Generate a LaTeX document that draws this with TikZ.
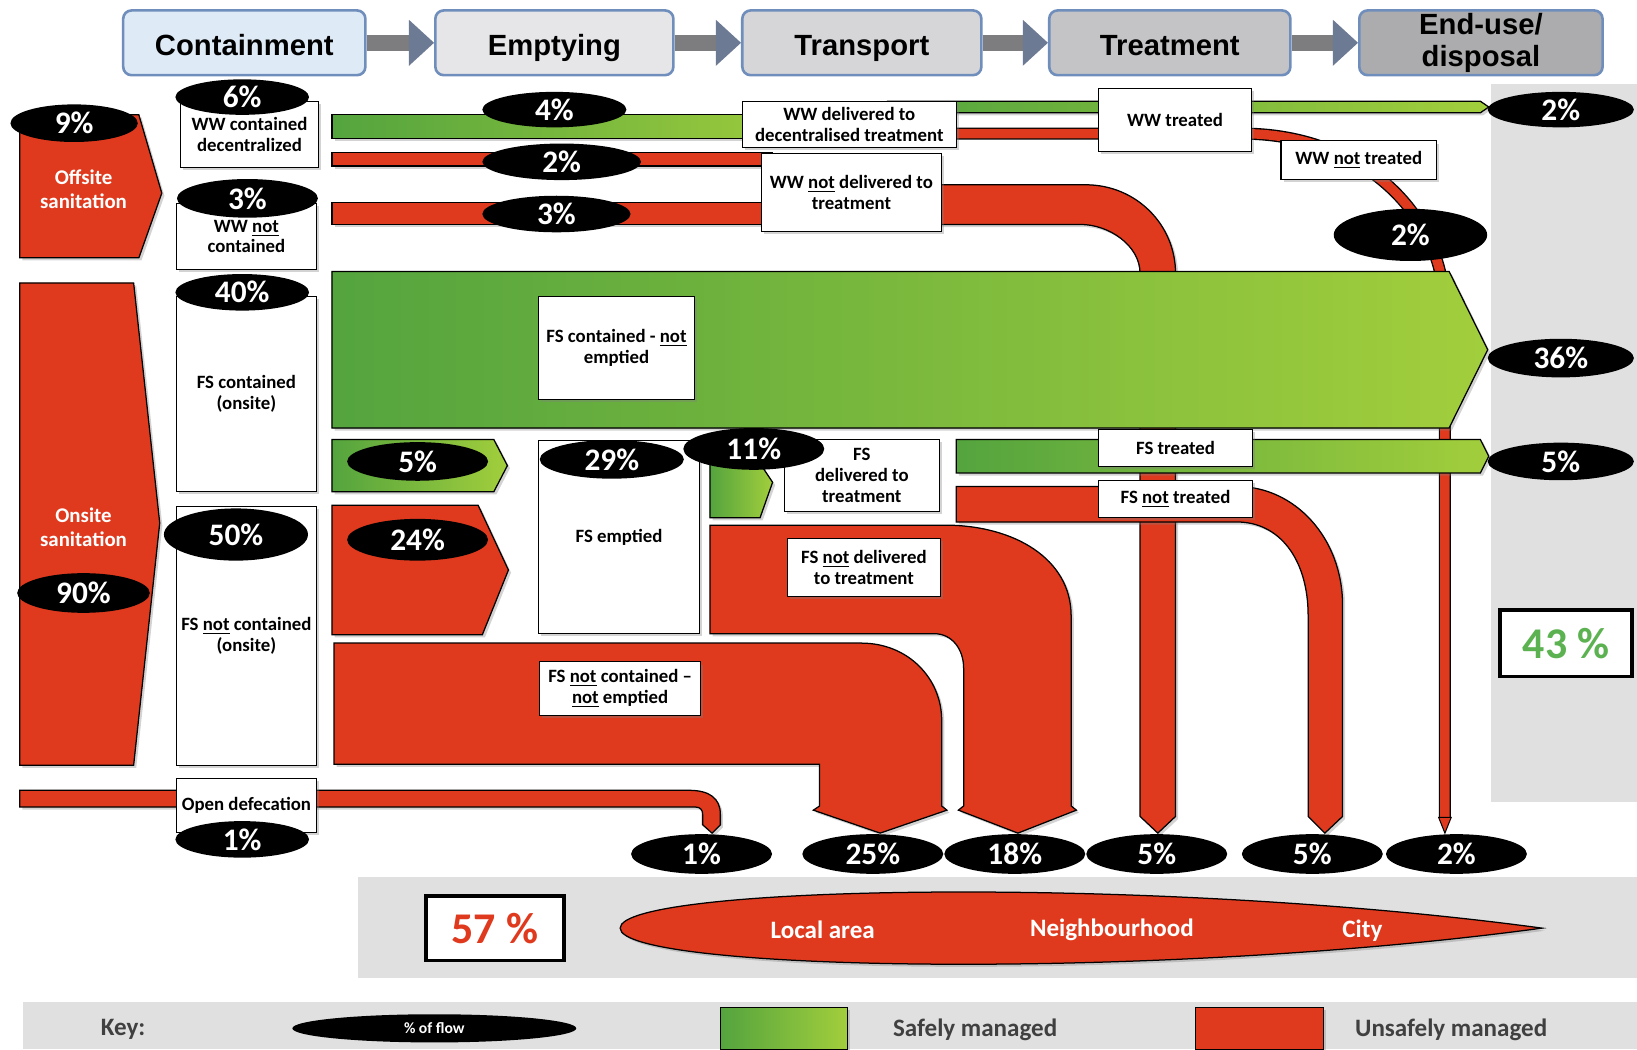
\documentclass[tikz,border=0pt]{standalone}
\usepackage{fontspec}
\setmainfont{Carlito}
\newfontfamily\hdrfont{Liberation Sans}
\usetikzlibrary{shapes.geometric,shadows,arrows.meta}

\newlength{\du}
\setlength{\du}{0.5pt}

\definecolor{flowred}{RGB}{224,58,30}
\definecolor{greenL}{RGB}{84,164,62}
\definecolor{greenR}{RGB}{162,206,60}
\definecolor{hdrline}{RGB}{112,142,188}
\definecolor{hdrA}{RGB}{222,235,247}
\definecolor{hdrB}{RGB}{230,230,232}
\definecolor{hdrC}{RGB}{214,214,216}
\definecolor{hdrD}{RGB}{196,196,198}
\definecolor{hdrE}{RGB}{172,172,174}
\definecolor{arrowgray}{RGB}{125,125,128}
\definecolor{tipgray}{RGB}{108,122,148}
\definecolor{bandgray}{RGB}{224,224,224}
\definecolor{pctgreen}{RGB}{92,178,80}
\definecolor{keygray}{RGB}{64,64,64}

\tikzset{
  shdw/.style={drop shadow={opacity=0.35,shadow xshift=2.5\du,shadow yshift=-2.5\du}},
  hdrbox/.style={draw=hdrline, line width=2.5\du, rounded corners=8\du, minimum height=62\du,
    inner sep=0pt, align=center, font=\hdrfont\bfseries\fontsize{14}{15.5}\selectfont},
  hdrone/.style={hdrbox, text height=12.5pt, text depth=0pt},
  hdrarrow/.style={draw=arrowgray, line width=15\du,
    -{Triangle[length=12pt,width=22pt,color=tipgray,line width=0pt]}},
  lblbox/.style={shdw, draw=black, line width=1\du, fill=white, inner sep=0pt, align=center,
    font=\bfseries\fontsize{9}{10}\selectfont},
  pct/.style={ellipse, fill=black, text=white, inner sep=0pt, minimum width=135\du,
    minimum height=37\du, font=\bfseries\fontsize{15}{15}\selectfont},
  redflow/.style={shdw, fill=flowred, draw=black, line width=1.2\du},
  greenflow/.style={shdw, left color=greenL, right color=greenR, draw=black, line width=1.2\du},
  redline/.style={draw=black, line width=1.3\du, double=flowred, double distance=9\du},
  whitetxt/.style={text=white, align=center, font=\bfseries\fontsize{10}{11.5}\selectfont},
  bigpct/.style={draw=black, line width=3.5\du, fill=white, inner sep=0pt,
    font=\bfseries\fontsize{21}{21}\selectfont},
  keytxt/.style={text=keygray, font=\bfseries\fontsize{12}{12}\selectfont},
}

\begin{document}
\begin{tikzpicture}
\pgftransformxscale{1.000000}
\pgftransformyscale{-1.000000}
\useasboundingbox (0\du,0\du) rectangle (1568\du,1005\du);
% grey panels
\fill[bandgray] (1428\du,80\du) rectangle (1568\du,768\du);
\fill[bandgray] (343\du,840\du) rectangle (1568\du,937\du);
\fill[bandgray] (22\du,960\du) rectangle (1568\du,1005\du);

% service chain
\node[hdrone, fill=hdrA, minimum width=232\du] (containment) at (234\du,41\du) {Containment};
\node[hdrone, fill=hdrB, minimum width=228\du] (emptying) at (531\du,41\du) {Emptying};
\node[hdrone, fill=hdrC, minimum width=229\du] (transport) at (825.5\du,41\du) {Transport};
\node[hdrone, fill=hdrD, minimum width=231\du] (treatment) at (1120.5\du,41\du) {Treatment};
\node[hdrbox, fill=hdrE, minimum width=233\du] (enduse) at (1418.5\du,41\du) {End-use/\\disposal};
\draw[hdrarrow] (containment) -- (emptying);
\draw[hdrarrow] (emptying) -- (transport);
\draw[hdrarrow] (transport) -- (treatment);
\draw[hdrarrow] (treatment) -- (enduse);

% offsite flows
\draw[redline] (905\du,128\du)--(1190\du,128\du) .. controls (1300\du,128\du) and (1384\du,200\du) .. (1384\du,300\du)--(1384\du,783\du);
\fill[flowred, draw=black, line width=1\du] (1378\du,783\du)--(1384\du,798\du)--(1390\du,783\du)--cycle;
\filldraw[redflow] (895\du,177\du)--(1040\du,177\du) .. controls (1088\du,177\du) and (1126\du,215\du) .. (1126\du,262\du)--(1126\du,782\du)--(1109\du,798\du)--(1092\du,782\du)--(1092\du,262\du) .. controls (1092\du,235\du) and (1062\du,215\du) .. (1035\du,215\du)--(895\du,215\du)--cycle;
\filldraw[greenflow] (318\du,110\du)--(800\du,110\du)--(800\du,133\du)--(318\du,133\du)--cycle;
\filldraw[greenflow] (850\du,97\du)--(1418\du,97\du)--(1426\du,102.5\du)--(1418\du,108\du)--(850\du,108\du)--cycle;
\filldraw[redflow] (318\du,146\du)--(740\du,146\du)--(740\du,159\du)--(318\du,159\du)--cycle;
\filldraw[redflow] (318\du,194\du)--(740\du,194\du)--(740\du,215\du)--(318\du,215\du)--cycle;

% onsite flows
\filldraw[greenflow] (318\du,260\du)--(1388\du,260\du)--(1425\du,335\du)--(1388\du,410\du)--(318\du,410\du)--cycle;
\filldraw[redflow] (19\du,110\du)--(133\du,110\du)--(155\du,185\du)--(133\du,247\du)--(19\du,247\du)--cycle;
\filldraw[redflow] (19\du,271\du)--(128\du,271\du)--(153\du,501\du)--(128\du,733\du)--(19\du,733\du)--cycle;
\filldraw[greenflow] (318\du,421\du)--(473\du,421\du)--(486\du,446\du)--(473\du,471\du)--(318\du,471\du)--cycle;
\filldraw[redflow] (318\du,484\du)--(458\du,484\du)--(487\du,546\du)--(462\du,608\du)--(318\du,608\du)--cycle;
\filldraw[greenflow] (680\du,444\du)--(728\du,444\du)--(740\du,462\du)--(728\du,496\du)--(680\du,496\du)--cycle;
\filldraw[greenflow] (916\du,421\du)--(1418\du,421\du)--(1426\du,437\du)--(1418\du,453\du)--(916\du,453\du)--cycle;
\filldraw[redflow] (916\du,466\du)--(1185\du,466\du) .. controls (1240\du,466\du) and (1286\du,515\du) .. (1286\du,580\du)--(1286\du,782\du)--(1269\du,798\du)--(1253\du,782\du)--(1253\du,590\du) .. controls (1253\du,535\du) and (1225\du,500\du) .. (1185\du,500\du)--(916\du,500\du)--cycle;
\filldraw[redflow] (680\du,503\du)--(905\du,503\du) .. controls (971\du,503\du) and (1026\du,535\du) .. (1026\du,590\du)--(1026\du,772\du)--(1031\du,776\du)--(975\du,798\du)--(918\du,776\du)--(923\du,772\du)--(923\du,640\du) .. controls (923\du,622\du) and (912\du,607\du) .. (895\du,607\du)--(680\du,607\du)--cycle;
\filldraw[redflow] (320\du,616\du)--(825\du,616\du) .. controls (870\du,616\du) and (902\du,650\du) .. (902\du,690\du)--(902\du,772\du)--(907\du,776\du)--(843\du,798\du)--(779\du,776\du)--(785\du,772\du)--(785\du,732\du)--(320\du,732\du)--cycle;
\filldraw[redflow] (19\du,757\du)--(660\du,757\du) .. controls (680\du,757\du) and (690\du,765\du) .. (690\du,780\du)--(690\du,790\du)--(682\du,798\du)--(673\du,790\du)--(673\du,780\du) .. controls (673\du,776\du) and (671\du,773\du) .. (666\du,773\du)--(19\du,773\du)--cycle;

% labels
\node[whitetxt] (offsite) at (80\du,181\du) {Offsite\\sanitation};
\node[whitetxt] (onsite) at (80\du,505\du) {Onsite\\sanitation};
\node[lblbox, minimum width=132\du, minimum height=63\du] (wwcont) at (239\du,128.5\du) {WW contained\\decentralized};
\node[lblbox, minimum width=134\du, minimum height=63\du] (wwnotcont) at (236\du,226.5\du) {WW \underline{not}\\contained};
\node[lblbox, minimum width=134\du, minimum height=187\du] (fscont) at (236\du,377.5\du) {FS contained\\(onsite)};
\node[lblbox, minimum width=134\du, minimum height=248\du] (fsnotcont) at (236\du,609\du) {FS \underline{not} contained\\(onsite)};
\node[lblbox, minimum width=134\du, minimum height=51\du] (opendef) at (236\du,771.5\du) {Open defecation};
\node[lblbox, minimum width=205\du, minimum height=44\du] (wwdeliv) at (813.5\du,119\du) {WW delivered to\\decentralised treatment};
\node[lblbox, minimum width=147\du, minimum height=60\du] (wwtreated) at (1125.5\du,115\du) {WW treated};
\node[lblbox, minimum width=173\du, minimum height=75\du] (wwnotdeliv) at (815.5\du,184.5\du) {WW \underline{not} delivered to\\treatment};
\node[lblbox, minimum width=149\du, minimum height=37\du] (wwnottreated) at (1301.5\du,153.5\du) {WW \underline{not} treated};
\node[lblbox, minimum width=149\du, minimum height=99\du] (fscontnotempt) at (590.5\du,333.5\du) {FS contained - \underline{not}\\emptied};
\node[lblbox, minimum width=154\du, minimum height=185\du] (fsemptied) at (593\du,514.5\du) {FS emptied};
\node[lblbox, minimum width=149\du, minimum height=69\du] (fsdeliv) at (825.5\du,455.5\du) {FS\\delivered to\\treatment};
\node[lblbox, minimum width=147\du, minimum height=55\du] (fsnotdeliv) at (827.5\du,543.5\du) {FS \underline{not} delivered\\to treatment};
\node[lblbox, minimum width=148\du, minimum height=36\du] (fstreated) at (1126\du,429\du) {FS treated};
\node[lblbox, minimum width=148\du, minimum height=36\du] (fsnottreated) at (1126\du,478\du) {FS \underline{not} treated};
\node[lblbox, minimum width=154\du, minimum height=51\du] (fsnotcontnotempt) at (594\du,659.5\du) {FS \underline{not} contained --\\\underline{not} emptied};

% percentages
\node[pct, minimum width=122\du, minimum height=36\du] (p9) at (71\du,118\du) {9\%};
\node[pct, minimum width=127\du, minimum height=38\du] (p90) at (80\du,568\du) {90\%};
\node[pct, minimum width=128\du, minimum height=34\du] (p6) at (232\du,93\du) {6\%};
\node[pct] (p3a) at (237\du,190\du) {3\%};
\node[pct, minimum width=128\du, minimum height=35\du] (p40) at (232\du,280\du) {40\%};
\node[pct, minimum width=138\du, minimum height=50\du] (p50) at (226\du,512\du) {50\%};
\node[pct, minimum width=128\du, minimum height=35\du] (p1a) at (232\du,804\du) {1\%};
\node[pct, minimum width=138\du, minimum height=34\du] (p4) at (531\du,105\du) {4\%};
\node[pct, minimum width=152\du, minimum height=35\du] (p2a) at (538\du,155\du) {2\%};
\node[pct, minimum width=142\du, minimum height=35\du] (p3b) at (533\du,205\du) {3\%};
\node[pct] (p5a) at (400\du,442\du) {5\%};
\node[pct, minimum height=40\du] (p24) at (400\du,517\du) {24\%};
\node[pct, minimum width=138\du] (p29) at (586\du,440\du) {29\%};
\node[pct, minimum height=40\du] (p11) at (722\du,430\du) {11\%};
\node[pct, minimum width=140\du, minimum height=34\du] (p2top) at (1495\du,105\du) {2\%};
\node[pct, minimum width=147\du, minimum height=50\du] (p2mid) at (1351\du,225\du) {2\%};
\node[pct, minimum width=140\du] (p36) at (1495\du,343\du) {36\%};
\node[pct, minimum width=140\du, minimum height=36\du] (p5b) at (1495\du,442\du) {5\%};
\node[pct, minimum height=38\du] (p1b) at (672\du,818\du) {1\%};
\node[pct, minimum height=38\du] (p25) at (836\du,818\du) {25\%};
\node[pct, minimum height=38\du] (p18) at (972\du,818\du) {18\%};
\node[pct, minimum height=38\du] (p5c) at (1108\du,818\du) {5\%};
\node[pct, minimum height=38\du] (p5d) at (1257\du,818\du) {5\%};
\node[pct, minimum height=38\du] (p2b) at (1395\du,818\du) {2\%};

% totals and reach
\node[bigpct, text=pctgreen, minimum width=126\du, minimum height=64\du] (safe) at (1500\du,616\du) {43 \%};
\node[bigpct, text=flowred, minimum width=132\du, minimum height=62\du] (unsafe) at (474\du,889\du) {57 \%};
\filldraw[redflow] (594\du,889\du) .. controls (594\du,848\du) and (1100\du,838\du) .. (1477\du,889\du) .. controls (1100\du,940\du) and (594\du,930\du) .. cycle;
\node[whitetxt, font=\bfseries\fontsize{12}{12}\selectfont] (local) at (788\du,891\du) {Local area};
\node[whitetxt, font=\bfseries\fontsize{12}{12}\selectfont] (neighbour) at (1065\du,891\du) {Neighbourhood};
\node[whitetxt, font=\bfseries\fontsize{12}{12}\selectfont] (city) at (1305\du,891\du) {City};

% key
\node[keytxt] (key) at (118\du,986\du) {Key:};
\node[pct, minimum width=272\du, minimum height=27\du, font=\bfseries\fontsize{7.5}{8}\selectfont] (keyflow) at (416\du,985\du) {\% of flow};
\filldraw[greenflow] (690\du,965\du) rectangle (812\du,1005\du);
\node[keytxt] (keysafe) at (934\du,986\du) {Safely managed};
\filldraw[redflow] (1145\du,965\du) rectangle (1268\du,1005\du);
\node[keytxt] (keyunsafe) at (1390\du,986\du) {Unsafely managed};
\end{tikzpicture}
\end{document}
